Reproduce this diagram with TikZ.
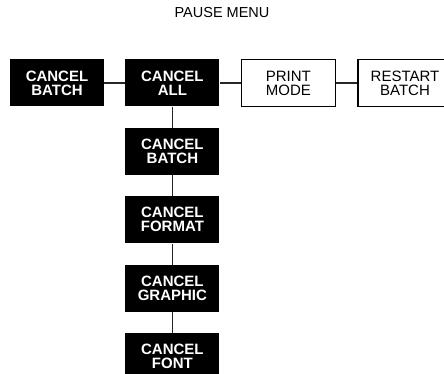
\documentclass[tikz,border=0pt]{standalone}
\usepackage{fontspec}
\setmainfont{Liberation Sans}
\usetikzlibrary{positioning}

\tikzset{
    menubox/.style={minimum width=94pt, minimum height=47pt, inner sep=0pt, align=center, font=\fontsize{15}{14}\selectfont},
    blkbox/.style={menubox, fill=black, text=white, font=\fontsize{15}{14}\selectfont\bfseries},
    whtbox/.style={menubox, draw=black, line width=1.6pt},
    link/.style={line width=1.6pt, black!85}
}

\begin{document}
\begin{tikzpicture}[x=1pt,y=1pt]
    \useasboundingbox (0,0) rectangle (444,-374);
    \node (title) at (222,-13) {\fontsize{14.5}{14}\selectfont PAUSE MENU};

    % top row
    \node[blkbox] (batch) at (57,-83) {CANCEL\\BATCH};
    \node[blkbox, right=21pt of batch] (all) {CANCEL\\ALL};
    \node[whtbox, right=21pt of all] (print) {PRINT\\MODE};
    \node[whtbox, right=21pt of print] (restart) {RESTART\\BATCH};

    % column under CANCEL ALL
    \node[blkbox, below=21pt of all] (cbatch) {CANCEL\\BATCH};
    \node[blkbox, below=21pt of cbatch] (cformat) {CANCEL\\FORMAT};
    \node[blkbox, below=21pt of cformat] (cgraphic) {CANCEL\\GRAPHIC};
    \node[blkbox, below=21pt of cgraphic] (cfont) {CANCEL\\FONT};

    \draw[link] (batch) -- (all);
    \draw[link] (all) -- (print);
    \draw[link] (print) -- (restart);
    \draw[link] (all) -- (cbatch);
    \draw[link] (cbatch) -- (cformat);
    \draw[link] (cformat) -- (cgraphic);
    \draw[link] (cgraphic) -- (cfont);
\end{tikzpicture}
\end{document}
